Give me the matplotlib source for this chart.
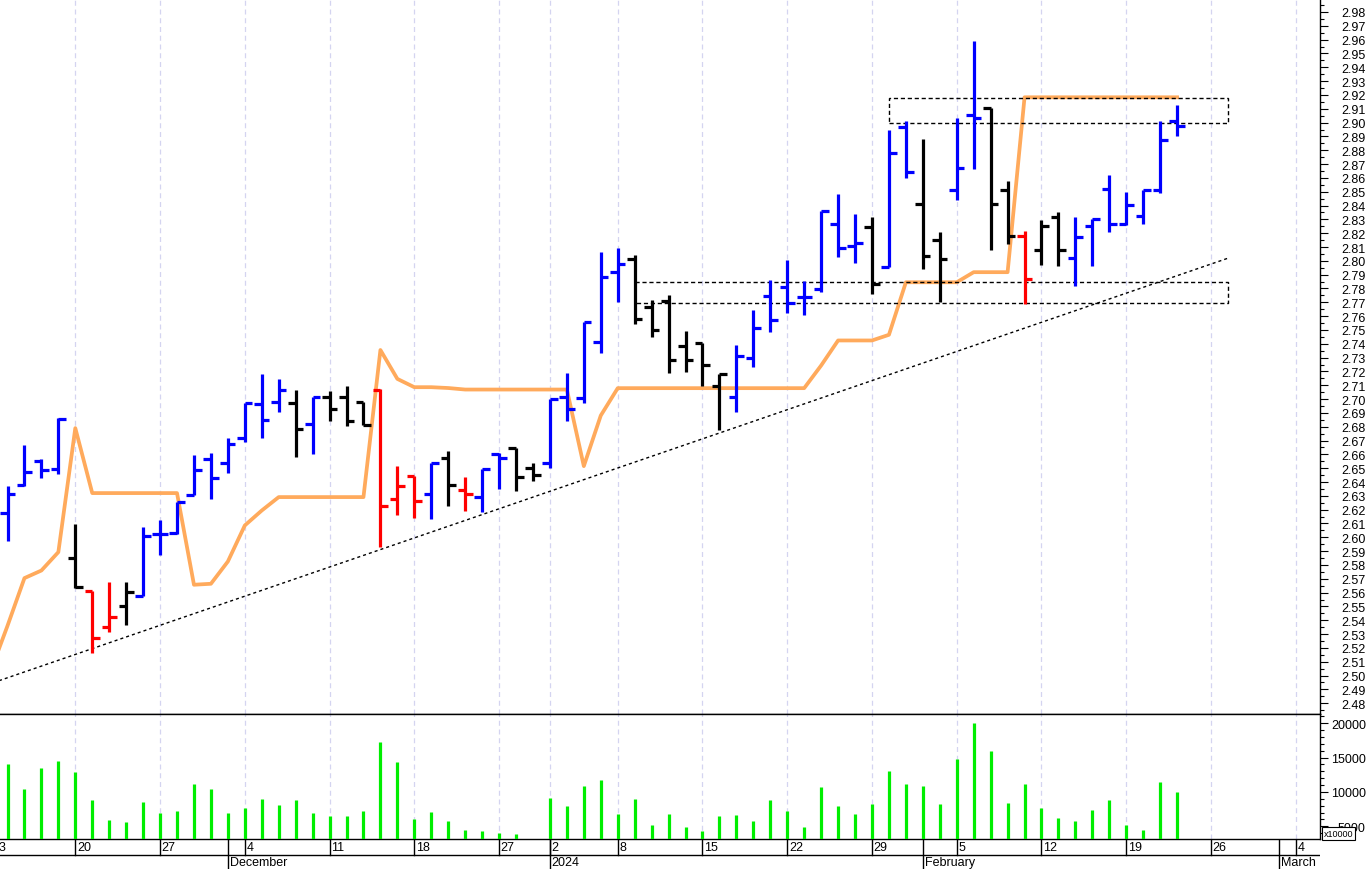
import numpy as np
import pandas as pd
import matplotlib
matplotlib.use("Agg")
import matplotlib.pyplot as plt
from matplotlib.patches import Rectangle

plt.rcParams["font.family"] = ["Liberation Sans", "DejaVu Sans"]

# trading days, Nov 13 2023 .. Mar 8 2024 (slot -1 = Nov 13)
holidays = ["2023-12-25", "2023-12-26", "2024-01-01"]
days = pd.bdate_range("2023-11-13", "2024-03-08")
days = days[~days.isin(pd.to_datetime(holidays))]
slots = np.arange(len(days)) - 1

# daily bars from Nov 14 2023 (slot 0)
opens = [2.6175, 2.6375, 2.6553, 2.6491, 2.5850, 2.5611, 2.5351, 2.5503, 2.5579, 2.6026,
         2.6031, 2.6308, 2.6563, 2.6539, 2.6720, 2.6961, 2.6982, 2.6971, 2.6821, 2.7018,
         2.7018, 2.6982, 2.7069, 2.6274, 2.6440, 2.6315, 2.6575, 2.6344, 2.6291, 2.6605,
         2.6645, 2.6500, 2.6537, 2.7018, 2.7007, 2.7416, 2.7918, 2.8014, 2.7665, 2.7713,
         2.7383, 2.7404, 2.7098, 2.7014, 2.7296, 2.7744, 2.7809, 2.7737, 2.7797, 2.8267,
         2.8106, 2.8243, 2.7954, 2.8966, 2.8412, 2.8151, 2.8515, 2.9055, 2.9106, 2.8515,
         2.8178, 2.8079, 2.8320, 2.8021, 2.8255, 2.8520, 2.8267, 2.8327, 2.8515, 2.9014]
highs = [2.6370, 2.6669, 2.6563, 2.6862, 2.6093, 2.5611, 2.5676, 2.5676, 2.6074, 2.6122,
         2.6259, 2.6592, 2.6611, 2.6718, 2.6971, 2.7182, 2.7146, 2.7069, 2.7018, 2.7055,
         2.7091, 2.6982, 2.7074, 2.6515, 2.6440, 2.6539, 2.6624, 2.6436, 2.6496, 2.6609,
         2.6645, 2.6537, 2.7002, 2.7187, 2.7561, 2.8067, 2.8091, 2.8045, 2.7718, 2.7754,
         2.7489, 2.7404, 2.7178, 2.7392, 2.7645, 2.7864, 2.8009, 2.7857, 2.8363, 2.8484,
         2.8339, 2.8315, 2.8947, 2.9014, 2.8882, 2.8207, 2.9031, 2.9593, 2.9106, 2.8576,
         2.8219, 2.8298, 2.8356, 2.8315, 2.8303, 2.8621, 2.8501, 2.8515, 2.9010, 2.9128]
lows = [2.5977, 2.6370, 2.6428, 2.6459, 2.5633, 2.5165, 2.5315, 2.5363, 2.5579, 2.5869,
        2.6026, 2.6308, 2.6279, 2.6467, 2.6689, 2.6718, 2.6910, 2.6580, 2.6604, 2.6838,
        2.6804, 2.6814, 2.5929, 2.6163, 2.6139, 2.6129, 2.6226, 2.6194, 2.6182, 2.6351,
        2.6334, 2.6404, 2.6500, 2.6845, 2.6973, 2.7334, 2.7705, 2.7544, 2.7448, 2.7190,
        2.7195, 2.7093, 2.6773, 2.6910, 2.7231, 2.7484, 2.7624, 2.7609, 2.7773, 2.8026,
        2.7983, 2.7761, 2.7954, 2.8600, 2.7942, 2.7701, 2.8441, 2.8665, 2.8079, 2.8122,
        2.7689, 2.7973, 2.7961, 2.7821, 2.7961, 2.8212, 2.8260, 2.8267, 2.8491, 2.8901]
closes = [2.6315, 2.6472, 2.6486, 2.6857, 2.5640, 2.5274, 2.5423, 2.5608, 2.6009, 2.6021,
          2.6255, 2.6488, 2.6431, 2.6676, 2.6971, 2.6850, 2.7069, 2.6780, 2.7018, 2.6929,
          2.6838, 2.6814, 2.6230, 2.6368, 2.6262, 2.6539, 2.6380, 2.6315, 2.6496, 2.6575,
          2.6436, 2.6452, 2.7002, 2.6929, 2.7556, 2.7886, 2.7976, 2.7580, 2.7503, 2.7284,
          2.7284, 2.7248, 2.7178, 2.7308, 2.7513, 2.7573, 2.7694, 2.7737, 2.8363, 2.8091,
          2.8130, 2.7833, 2.8778, 2.8641, 2.8038, 2.8014, 2.8670, 2.9031, 2.8412, 2.8178,
          2.7869, 2.8255, 2.8079, 2.8175, 2.8303, 2.8267, 2.8404, 2.8515, 2.8874, 2.8978]
bar_colors = (["blue"] * 4 + ["black", "red", "red", "black"] + ["blue"] * 9 + ["black", "blue"]
              + ["black"] * 3 + ["red"] * 3 + ["blue", "black", "red", "blue", "blue", "black", "black"]
              + ["blue"] * 5 + ["black"] * 6 + ["blue"] * 8 + ["black", "blue", "blue", "black", "black",
              "blue", "blue", "black", "black", "red", "black", "black"] + ["blue"] * 7)
volume = [14130, 10390, 13440, 14570, 12900, 8890, 5870, 5580, 8600, 7000,
          7180, 11220, 10390, 7000, 7720, 8980, 8160, 8830, 7000, 6560,
          6460, 7290, 17330, 14320, 6020, 7140, 5730, 4460, 4320, 4020,
          3930, 3200, 9080, 8010, 10930, 11740, 6850, 8980, 5150, 6850,
          4950, 4320, 6560, 6600, 5830, 8830, 7230, 4900, 10780, 7960,
          6850, 8250, 13050, 11220, 10930, 8250, 14860, 20040, 16020, 8390,
          11220, 7720, 6270, 5730, 7380, 8830, 5150, 4520, 11450, 10050]

# trailing stop line, from slot -1
stop = [2.5030, 2.5360, 2.5705, 2.5760, 2.5893, 2.6790, 2.6320, 2.6320, 2.6320, 2.6320,
        2.6320, 2.6320, 2.5657, 2.5664, 2.5825, 2.6086, 2.6194, 2.6291, 2.6291, 2.6291,
        2.6291, 2.6291, 2.6291, 2.7355, 2.7146, 2.7086, 2.7086, 2.7080, 2.7069, 2.7069,
        2.7069, 2.7069, 2.7069, 2.7069, 2.7069, 2.6515, 2.6881, 2.7079, 2.7079, 2.7079,
        2.7079, 2.7079, 2.7079, 2.7079, 2.7079, 2.7079, 2.7079, 2.7079, 2.7079, 2.7243,
        2.7424, 2.7424, 2.7424, 2.7465, 2.7845, 2.7845, 2.7845, 2.7845, 2.7918, 2.7918,
        2.7918, 2.9183, 2.9183, 2.9183, 2.9183, 2.9183, 2.9183, 2.9183, 2.9183, 2.9183,
        2.9183]

trend_slots = [-1, 72]
trend_vals = [2.4942, 2.8019]
upper_box = (52, 72, 2.8995, 2.9176)
lower_box = (37, 72, 2.7696, 2.7846)

n = len(opens)
x = np.arange(n)
x_stop = np.arange(len(stop)) - 1

# first trading day of each week / month
wk = days.to_series().dt.isocalendar().week.values
week_first = [i for i in range(len(days)) if i == 0 or wk[i] != wk[i - 1]]
month_first = [i for i in range(1, len(days)) if days[i].month != days[i - 1].month]

W, H = 1368, 870
fig = plt.figure(figsize=(W / 100, H / 100), dpi=100)
right = 1320 / W
xlim = (-0.4425, 77.43)

ax = fig.add_axes([0, 155 / H, right, 715 / H])
axv = fig.add_axes([0, 30 / H, right, 125 / H])
axd = fig.add_axes([0, 0, right, 30 / H])

grid_kw = dict(color="#d4d4f0", lw=0.9, ls=(0, (4, 3)), zorder=0)
for a in (ax, axv):
    a.set_xlim(*xlim)
    a.spines["left"].set_visible(False)
    for s in ("top", "right", "bottom"):
        a.spines[s].set_color("black")
        a.spines[s].set_linewidth(1)
    a.set_xticks([])
    a.yaxis.tick_right()
    for i in week_first:
        a.axvline(slots[i], **grid_kw)
ax.spines["top"].set_visible(False)

# price panel
ax.vlines(x, lows, highs, colors=bar_colors, lw=2.3, zorder=3)
ax.hlines(opens, x - 0.45, x, colors=bar_colors, lw=2.3, zorder=3)
ax.hlines(closes, x, x + 0.45, colors=bar_colors, lw=2.3, zorder=3)
ax.plot(x_stop, stop, color="#ffaa5c", lw=2.7, zorder=2)
ax.plot(trend_slots, trend_vals, color="black", lw=1, ls=(0, (2.2, 2.2)), zorder=2)

x0, x1, y0, y1 = upper_box
ax.add_patch(Rectangle((x0, y0), x1 - x0, y1 - y0, fill=False, ec="black",
                       lw=1, ls=(0, (3, 2)), zorder=2))
x0, x1, y0, y1 = lower_box
ax.plot([x0, x1, x1, x0], [y1, y1, y0, y0], color="black", lw=1, ls=(0, (3, 2)), zorder=2)

ax.set_ylim(2.4722, 2.9894)
pticks = np.round(np.arange(2.48, 2.985, 0.01), 2)
ax.set_yticks(pticks, [f"{v:.2f}" for v in pticks])
ax.set_yticks(np.arange(2.475, 2.99, 0.01), minor=True)
ax.tick_params(axis="y", which="major", length=5.5, width=0.8, pad=27.5, labelsize=9)
ax.tick_params(axis="y", which="minor", length=3, width=0.8)
for t in ax.get_yticklabels():
    t.set_horizontalalignment("right")

# volume panel
axv.vlines(x, 0, volume, colors="#00ee00", lw=2.3, zorder=3)
axv.set_ylim(3150, 21350)
vticks = [5000, 10000, 15000, 20000]
axv.set_yticks(vticks, [str(v) for v in vticks])
axv.set_yticks(np.arange(4000, 21001, 1000), minor=True)
axv.tick_params(axis="y", which="major", length=5.5, width=0.8, pad=27.5, labelsize=9)
axv.tick_params(axis="y", which="minor", length=3, width=0.8)
for t in axv.get_yticklabels():
    t.set_horizontalalignment("right")
fig.text(1324 / W, (H - 834.5) / H, "x10000", fontsize=6.5, va="center", ha="left",
         bbox=dict(boxstyle="square,pad=0.2", fc="white", ec="black", lw=0.8))

# date strip
axd.set_xlim(*xlim)
axd.set_ylim(0, 30)
axd.axis("off")
axd.axhline(14, color="black", lw=1)
for i in week_first:
    axd.plot([slots[i], slots[i]], [14, 30], color="black", lw=1)
    axd.text(slots[i] + 0.1, 21.5, str(days[i].day), fontsize=9, va="center", ha="left",
             clip_on=True)
month_names = {1: "2024", 2: "February", 3: "March", 12: "December"}
for i in month_first:
    axd.plot([slots[i], slots[i]], [0, 30], color="black", lw=1)
    axd.text(slots[i] + 0.1, 6.5, month_names[days[i].month], fontsize=9, va="center",
             ha="left", clip_on=True)

fig.savefig("out.png", dpi=100, facecolor="white")
